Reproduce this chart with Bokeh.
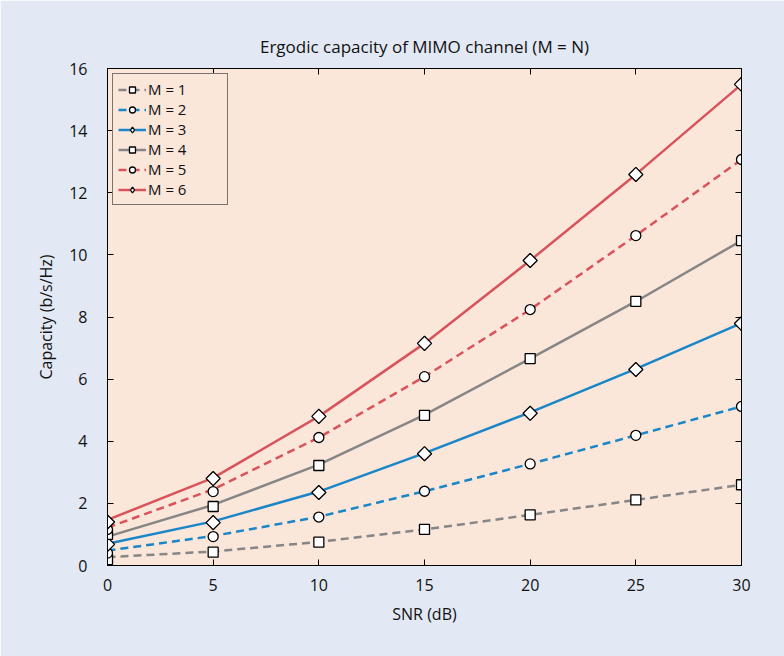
import math
from bokeh.plotting import figure
from bokeh.models import LinearAxis, Legend, LegendItem, Range1d, FixedTicker
from bokeh.embed import file_html
from bokeh.resources import INLINE

# ---- data ----
snr = [0, 5, 10, 15, 20, 25, 30]
labels = ["M = 1", "M = 2", "M = 3", "M = 4", "M = 5", "M = 6"]

# simulated points (markers)
pts_m1 = [0.19, 0.43, 0.75, 1.16, 1.63, 2.11, 2.60]
pts_m2 = [0.40, 0.93, 1.56, 2.39, 3.27, 4.19, 5.12]
pts_m3 = [0.68, 1.38, 2.35, 3.60, 4.90, 6.31, 7.79]
pts_m4 = [1.00, 1.90, 3.22, 4.83, 6.66, 8.50, 10.46]
pts_m5 = [1.16, 2.38, 4.12, 6.08, 8.24, 10.62, 13.07]
pts_m6 = [1.40, 2.80, 4.80, 7.15, 9.82, 12.59, 15.49]

# curves (lines)
cur_m1 = [0.27, 0.45, 0.76, 1.16, 1.63, 2.11, 2.60]
cur_m2 = [0.48, 0.95, 1.57, 2.39, 3.27, 4.19, 5.12]
cur_m3 = [0.70, 1.42, 2.38, 3.62, 4.93, 6.33, 7.80]
cur_m4 = [0.93, 1.95, 3.25, 4.85, 6.66, 8.50, 10.46]
cur_m5 = [1.22, 2.45, 4.12, 6.08, 8.24, 10.62, 13.07]
cur_m6 = [1.47, 2.82, 4.80, 7.15, 9.82, 12.59, 15.49]

x_ticks = [0, 5, 10, 15, 20, 25, 30]
y_ticks = [0, 2, 4, 6, 8, 10, 12, 14, 16]

points = [pts_m1, pts_m2, pts_m3, pts_m4, pts_m5, pts_m6]
curves = [cur_m1, cur_m2, cur_m3, cur_m4, cur_m5, cur_m6]

# ---- styles ----
GRAY = "#868686"
BLUE = "#1a86c8"
RED = "#d9545a"
colors = [GRAY, BLUE, BLUE, GRAY, RED, RED]
dashes = ["8 5", "8 5", "solid", "solid", "8 5", "solid"]
markers = ["square", "circle", "diamond", "square", "circle", "diamond"]
FONT = "Open Sans"
BG = "#e3e9f4"
PLOT_BG = "#fbe6da"
TXT = "#111111"

p = figure(width=784, height=656, output_backend="svg", toolbar_location=None,
           x_range=Range1d(0, 30), y_range=Range1d(0, 16),
           min_border_left=107, min_border_right=43, min_border_top=68, min_border_bottom=91,
           title="Ergodic capacity of MIMO channel (M = N)")
p.background_fill_color = PLOT_BG
p.border_fill_color = BG
p.outline_line_color = "black"
p.outline_line_width = 1
p.grid.visible = False

p.title.align = "center"
p.title.text_font = FONT
p.title.text_font_size = "17px"
p.title.text_font_style = "normal"
p.title.text_color = TXT
p.title.standoff = 22

for ax in [p.xaxis[0], p.yaxis[0]]:
    ax.axis_line_color = "black"
    ax.major_tick_in = 6
    ax.major_tick_out = 0
    ax.minor_tick_line_color = None
    ax.major_tick_line_color = "black"
    ax.major_label_text_font = FONT
    ax.major_label_text_font_size = "16px"
    ax.major_label_text_color = TXT
    ax.axis_label_text_font = FONT
    ax.axis_label_text_font_size = "16px"
    ax.axis_label_text_font_style = "normal"
    ax.axis_label_text_color = TXT

p.xaxis[0].ticker = FixedTicker(ticks=x_ticks)
p.yaxis[0].ticker = FixedTicker(ticks=y_ticks)
p.xaxis[0].axis_label = "SNR (dB)"
p.yaxis[0].axis_label = "Capacity (b/s/Hz)"
p.xaxis[0].major_label_standoff = 13
p.yaxis[0].major_label_standoff = 20
p.xaxis[0].axis_label_standoff = 9
p.yaxis[0].axis_label_standoff = 9

top_ax = LinearAxis(ticker=FixedTicker(ticks=x_ticks))
right_ax = LinearAxis(ticker=FixedTicker(ticks=y_ticks))
for ax in [top_ax, right_ax]:
    ax.major_tick_in = 6
    ax.major_tick_out = 0
    ax.minor_tick_line_color = None
    ax.major_label_text_color = None
    ax.major_label_text_font_size = "1px"
    ax.axis_line_color = "black"
p.add_layout(top_ax, "above")
p.add_layout(right_ax, "right")

items = []
for i in range(6):
    ln = p.line(snr, curves[i], line_color=colors[i], line_width=2.5, line_dash=dashes[i])
    if markers[i] == "diamond":
        # narrow diamond (used for the legend), covered by a wider rotated square
        sc = p.scatter(snr, points[i], marker="diamond", size=13,
                       fill_color="white", line_color="black", line_width=1.3)
        p.scatter(snr, points[i], marker="square", size=10, angle=math.pi / 4,
                  fill_color="white", line_color="black", line_width=1.3)
    else:
        sc = p.scatter(snr, points[i], marker=markers[i], size=10,
                       fill_color="white", line_color="black", line_width=1.3)
    items.append(LegendItem(label=labels[i], renderers=[ln, sc]))

legend = Legend(items=items, location="top_left")
legend.label_text_font = FONT
legend.label_text_font_size = "15px"
legend.label_text_color = TXT
legend.glyph_width = 28
legend.glyph_height = 15
legend.label_height = 15
legend.label_width = 74
legend.spacing = 0
legend.padding = 5
legend.margin = 5
legend.label_standoff = 2
legend.border_line_color = "black"
legend.border_line_width = 1
legend.background_fill_color = PLOT_BG
legend.background_fill_alpha = 1
p.add_layout(legend, "center")

open("out.html", "w").write(file_html(p, INLINE))
